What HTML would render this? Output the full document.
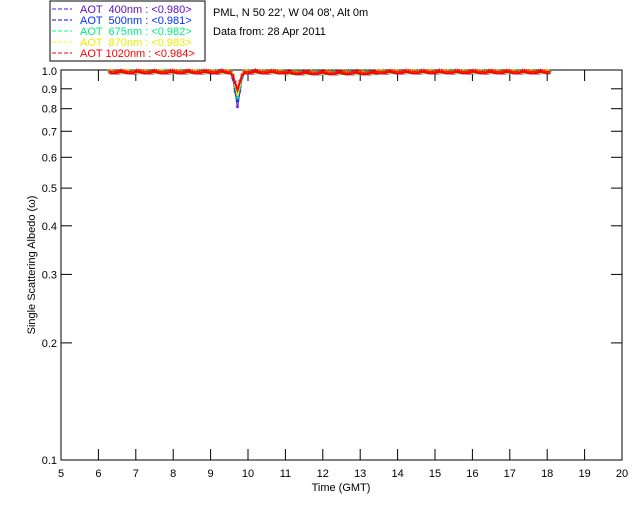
<!DOCTYPE html><html><head><style>body{margin:0;background:#fff}svg{display:block}text{font-family:"Liberation Sans",sans-serif;font-size:11px}</style></head><body>
<svg id="s" width="640" height="512" xmlns="http://www.w3.org/2000/svg">
<rect x="50" y="1" width="155" height="60" fill="none" stroke="#000" stroke-width="1"/>
<g font-size="11.5">
<line x1="52" y1="9" x2="72" y2="9" stroke="#60f" stroke-dasharray="4,2"/><text x="80" y="13" fill="#6010c0" xml:space="preserve">AOT  400nm : &lt;0.980&gt;</text>
<line x1="52" y1="20" x2="72" y2="20" stroke="#00f" stroke-dasharray="4,2"/><text x="80" y="24" fill="#0030ff" xml:space="preserve">AOT  500nm : &lt;0.981&gt;</text>
<line x1="52" y1="31" x2="72" y2="31" stroke="#0f8" stroke-dasharray="4,2"/><text x="80" y="35" fill="#00ee80" xml:space="preserve">AOT  675nm : &lt;0.982&gt;</text>
<line x1="52" y1="42" x2="72" y2="42" stroke="#ff0" stroke-dasharray="4,2"/><text x="80" y="46" fill="#eeee00" xml:space="preserve">AOT  870nm : &lt;0.983&gt;</text>
<line x1="52" y1="53" x2="72" y2="53" stroke="#f00" stroke-dasharray="4,2"/><text x="80" y="57" fill="#f00" xml:space="preserve">AOT 1020nm : &lt;0.984&gt;</text>
</g>
<text x="213" y="16">PML, N 50 22', W 04 08', Alt 0m</text>
<text x="213" y="35">Data from: 28 Apr 2011</text>
<rect x="61" y="70" width="561" height="390" fill="none" stroke="#000"/>
<text x="341" y="491" text-anchor="middle">Time (GMT)</text>
<text transform="translate(35,265) rotate(-90)" text-anchor="middle">Single Scattering Albedo (ω)</text>
<g id="ax"></g><g id="d"></g>
</svg>
<script>
var ns="http://www.w3.org/2000/svg",ax=document.getElementById("ax"),d=document.getElementById("d");
function el(t,a,p,tx){var e=document.createElementNS(ns,t);for(var k in a)e.setAttribute(k,a[k]);if(tx)e.textContent=tx;(p||ax).appendChild(e);return e}
function X(h){return 61+(h-5)*561/15}
function Y(v){return 460-(Math.log10(v)+1)*389}
for(var h=5;h<=20;h++){var x=X(h);if(h>5&&h<20){el("line",{x1:x,y1:460,x2:x,y2:449,stroke:"#000"});el("line",{x1:x,y1:70,x2:x,y2:81,stroke:"#000"});}
el("text",{x:x,y:477,"text-anchor":"middle"},ax,""+h);}
[[0.1,"0.1"],[0.2,"0.2"],[0.3,"0.3"],[0.4,"0.4"],[0.5,"0.5"],[0.6,"0.6"],[0.7,"0.7"],[0.8,"0.8"],[0.9,"0.9"],[1,"1.0"]].forEach(function(p){var y=Y(p[0]);
if(p[0]>0.1&&p[0]<1){el("line",{x1:61,y1:y,x2:72,y2:y,stroke:"#000"});el("line",{x1:622,y1:y,x2:611,y2:y,stroke:"#000"});}
el("text",{x:57,y:y+4,"text-anchor":"end"},ax,p[1]);});
var cols=["#6010c0","#0030ff","#00ee80","#eeee00","#f00"];
for(var c=0;c<5;c++){var pts=[];
for(var t=6.3;t<=18.1;t+=0.06){var v=0.992-0.01*Math.abs(Math.sin(t*7+c))-(t>11&&t<13.5?0.005:0)+c*0.001;
var dd=Math.abs(t-9.72);if(dd<0.15)v=v-(0.18-c*0.02)*(1-dd/0.15);pts.push(X(t).toFixed(1)+","+Y(v).toFixed(1));
el("text",{x:X(t),y:Y(v)+4,"text-anchor":"middle",fill:cols[c],"font-size":"9"},d,"*");}
el("polyline",{points:pts.join(" "),fill:"none",stroke:cols[c],"stroke-width":c==4?2:1},d);}
</script>
</body></html>
